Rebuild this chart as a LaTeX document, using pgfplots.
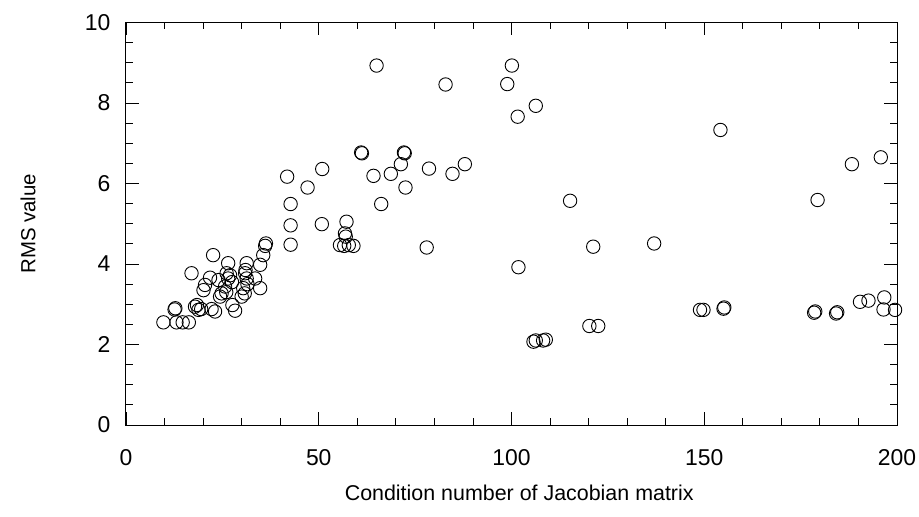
\documentclass[border=0pt]{standalone}
\usepackage{pgfplots}
\pgfplotsset{compat=1.18}
\usepackage{fontspec}
\setmainfont{Liberation Sans}
\begin{document}
\begin{tikzpicture}
\begin{axis}[
  name=ax, at={(0,0)}, anchor=south west,
  scale only axis, width=771bp, height=402.5bp,
  xmin=0, xmax=200, ymin=0, ymax=10,
  xtick={0,50,100,150,200}, ytick={0,2,4,6,8,10},
  minor x tick num=4, minor y tick num=3,
  tick align=inside, tick pos=both,
  major tick length=13bp, minor tick length=7bp,
  every tick/.style={black, line width=0.9bp},
  axis line style={black, line width=1bp},
  /pgf/number format/assume math mode=true,
  tick label style={font=\fontsize{23}{27}\selectfont},
  xticklabel style={yshift=-21bp},
  yticklabel style={xshift=-12bp},
  xlabel style={font=\fontsize{21.5}{25}\selectfont},
  ylabel style={font=\fontsize{20.5}{24}\selectfont},
  xlabel={Condition number of Jacobian matrix},
  ylabel={RMS value},
  xlabel style={at={(axis description cs:0.51,-0.169)}, anchor=center},
  ylabel style={at={(axis description cs:-0.127,0.5)}, anchor=center},
  clip=false,
]
\addplot[only marks, mark=o, mark size=6.7bp, mark options={line width=0.9bp, black}] coordinates {
(9.7,2.55) (13.1,2.55) (14.7,2.55) (16.3,2.55)
(12.6,2.87) (12.8,2.90)
(17.9,2.94) (18.4,2.98) (18.8,2.86) (19.5,2.88) (22.2,2.88) (23.1,2.82)
(27.6,2.98) (28.3,2.84)
(17.0,3.77) (21.8,3.66) (20.5,3.48) (20.1,3.35)
(22.6,4.22) (26.5,4.02) (31.3,4.02) (34.8,3.98) (35.6,4.22) (36.1,4.45) (36.3,4.51)
(26.1,3.77) (26.5,3.64) (27.0,3.72) (30.9,3.77) (31.3,3.64) (33.5,3.64) (31.0,3.85)
(25.7,3.44) (24.8,3.27) (24.4,3.19) (26.0,3.30)
(30.4,3.40) (30.8,3.27) (30.0,3.19) (31.5,3.50)
(34.8,3.40) (27.5,3.55) (24.0,3.60)
(42.7,4.48) (42.7,4.96) (42.7,5.49) (41.8,6.17) (47.1,5.90) (50.9,6.36) (50.8,4.99)
(55.5,4.47) (56.6,4.45) (57.8,4.47) (59.0,4.45) (56.8,4.76) (57.0,4.68) (57.2,5.05)
(61.0,6.77) (61.2,6.75) (64.2,6.19) (66.2,5.49) (65.0,8.93) (68.7,6.24)
(71.3,6.48) (72.1,6.77) (72.3,6.75) (72.5,5.90) (78.0,4.41) (78.6,6.37)
(82.9,8.46) (84.7,6.24) (87.9,6.48)
(98.9,8.47) (100.1,8.93) (101.6,7.66) (101.8,3.92) (106.3,7.93)
(105.7,2.07) (106.3,2.10) (108.2,2.10) (108.9,2.12)
(115.2,5.57) (120.2,2.46) (122.5,2.46) (121.2,4.43) (137.0,4.51)
(148.9,2.86) (149.8,2.86) (154.2,7.33) (155.0,2.89) (155.2,2.92)
(178.5,2.79) (178.8,2.82) (179.4,5.59) (184.2,2.77) (184.5,2.80)
(188.3,6.48) (190.4,3.06) (192.6,3.09) (195.8,6.65) (196.7,3.17) (196.5,2.87) (199.5,2.86)
};
\end{axis}
\pgfresetboundingbox
\path (-126bp,-92bp) rectangle (793bp,425bp);
\end{tikzpicture}
\end{document}
